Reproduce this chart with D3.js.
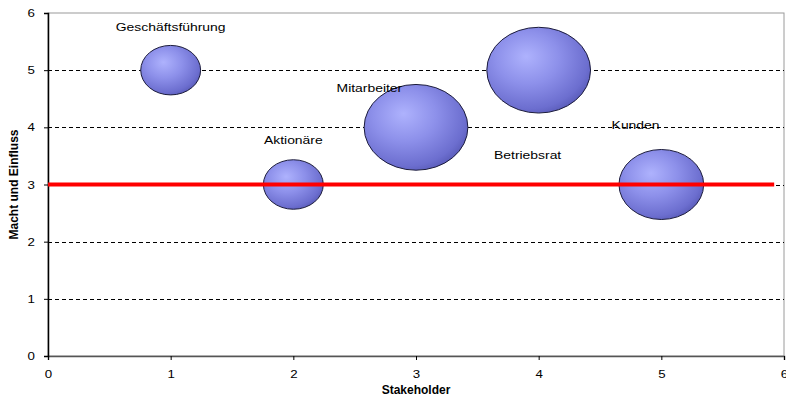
<!DOCTYPE html>
<html>
<head>
<meta charset="utf-8">
<script src="https://cdn.jsdelivr.net/npm/d3@7"></script>
<style>
  body { margin: 0; background: #fff; }
  svg { display: block; font-family: "Liberation Sans", Arial, sans-serif; }
</style>
</head>
<body>
<svg id="chart" width="786" height="401"></svg>
<script>
// bubble series
const names = ['Geschäftsführung', 'Aktionäre', 'Mitarbeiter', 'Betriebsrat', 'Kunden'];
const xValues = [1, 2, 3, 4, 5];
const yValues = [5, 3, 4, 5, 3];
const sizes = [1, 1, 3, 3, 2];
// free-standing text boxes, in data units
const labelX = [1, 2, 2.62, 3.91, 4.79];
const labelY = [5.76, 3.78, 4.68, 3.52, 4.04];
// red reference line
const refLineX = [0, 5.92];
const refLineY = 3;
const xTicks = [0, 1, 2, 3, 4, 5, 6];
const yTicks = [0, 1, 2, 3, 4, 5, 6];

const svg = d3.select('#chart');
const plotLeft = 48, plotRight = 784, plotTop = 13, plotBottom = 356;

const x = d3.scaleLinear().domain([0, 6]).range([plotLeft, plotRight]);
const y = d3.scaleLinear().domain([0, 6]).range([plotBottom, plotTop]);
// largest bubble is a quarter of the plot height across
const r = d3.scaleSqrt().domain([0, d3.max(sizes)]).range([0, (plotBottom - plotTop) / 8]);
// the whole picture is a bit wider than tall
const stretch = 1.21;

const defs = svg.append('defs');
const grad = defs.append('radialGradient')
  .attr('id', 'ball')
  .attr('cx', '40%').attr('cy', '38%').attr('r', '68%')
  .attr('fx', '38%').attr('fy', '34%');
grad.append('stop').attr('offset', '0%').attr('stop-color', '#aeb2fd');
grad.append('stop').attr('offset', '45%').attr('stop-color', '#8d90ea');
grad.append('stop').attr('offset', '85%').attr('stop-color', '#6c6ecf');
grad.append('stop').attr('offset', '100%').attr('stop-color', '#5759b6');

// plot frame
svg.append('rect')
  .attr('x', plotLeft).attr('y', plotTop)
  .attr('width', plotRight - plotLeft).attr('height', plotBottom - plotTop)
  .attr('fill', 'none').attr('stroke', '#9a9a9a').attr('stroke-width', 1);

// gridlines
svg.append('g')
  .selectAll('line')
  .data(yTicks.filter(d => d > 0 && d < 6))
  .join('line')
  .attr('x1', plotLeft).attr('x2', plotRight)
  .attr('y1', d => Math.round(y(d)) + 0.5).attr('y2', d => Math.round(y(d)) + 0.5)
  .attr('stroke', '#000').attr('stroke-dasharray', '4,3').attr('stroke-width', 1);

// axes
const xAxis = svg.append('g')
  .attr('transform', `translate(0,${plotBottom})`)
  .call(d3.axisBottom(x).tickValues(xTicks).tickFormat(d3.format('d')).tickSize(4).tickPadding(10));
const yAxis = svg.append('g')
  .attr('transform', `translate(${plotLeft},0)`)
  .call(d3.axisLeft(y).tickValues(yTicks).tickFormat(d3.format('d')).tickSize(4).tickPadding(9));
[xAxis, yAxis].forEach(a => {
  a.selectAll('text').attr('font-size', 11).attr('fill', '#000')
    .attr('font-family', '"Liberation Sans", Arial, sans-serif')
    .attr('transform', function() {
      const tx = +d3.select(this).attr('x') || 0;
      return `translate(${tx},0) scale(${stretch},1) translate(${-tx},0)`;
    });
});
xAxis.select('.domain').attr('stroke', '#555').attr('stroke-width', 1.5);
yAxis.select('.domain').attr('stroke', '#000').attr('stroke-width', 1.5);

// bubbles
const bubbles = names.map((n, i) => ({ name: n, x: xValues[i], y: yValues[i], size: sizes[i] }));
svg.append('g')
  .selectAll('ellipse')
  .data(bubbles)
  .join('ellipse')
  .attr('cx', d => x(d.x))
  .attr('cy', d => y(d.y))
  .attr('rx', d => r(d.size) * stretch)
  .attr('ry', d => r(d.size))
  .attr('fill', 'url(#ball)')
  .attr('stroke', '#1c1c3c')
  .attr('stroke-width', 1);

// labels
svg.append('g')
  .selectAll('text')
  .data(names)
  .join('text')
  .attr('transform', (d, i) => `translate(${x(labelX[i])},${y(labelY[i])}) scale(${stretch},1)`)
  .attr('text-anchor', 'middle')
  .attr('dy', '0.35em')
  .attr('font-size', 11.5)
  .attr('fill', '#000')
  .text(d => d);

// reference line
svg.append('line')
  .attr('x1', x(refLineX[0])).attr('x2', x(refLineX[1]))
  .attr('y1', y(refLineY)).attr('y2', y(refLineY))
  .attr('stroke', '#ff0000').attr('stroke-width', 4);

// axis titles
svg.append('text')
  .attr('x', (plotLeft + plotRight) / 2).attr('y', 394)
  .attr('text-anchor', 'middle')
  .attr('font-size', 12).attr('font-weight', 'bold')
  .text('Stakeholder');
svg.append('text')
  .attr('transform', `translate(18,${(plotTop + plotBottom) / 2}) rotate(-90)`)
  .attr('text-anchor', 'middle')
  .attr('font-size', 12).attr('font-weight', 'bold')
  .text('Macht und Einfluss');
</script>
</body>
</html>
